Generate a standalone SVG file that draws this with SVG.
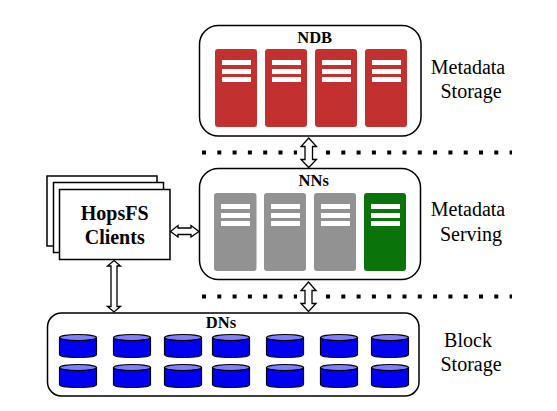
<svg xmlns="http://www.w3.org/2000/svg" xmlns:xlink="http://www.w3.org/1999/xlink" width="557" height="411" viewBox="0 0 557 411">
<style>
.box{fill:#fff;stroke:#000;stroke-width:1.5}
.page{fill:#fff;stroke:#000;stroke-width:1.5}
.stripe{fill:#fff}
.red{fill:#c33030}
.gray{fill:#929292}
.green{fill:#0a730a}
.arrow{fill:#fff;stroke:#000;stroke-width:1.3}
.cylb{fill:#0000f0;stroke:#000;stroke-width:1.2}
.cylt{fill:#8080ff;stroke:#000;stroke-width:1.2}
text{font-family:"Liberation Serif","Times New Roman",serif;fill:#000}
.title{font-weight:bold;font-size:16.5px;text-anchor:middle}
.label{font-size:20px;text-anchor:middle}
.client{font-weight:bold;font-size:20px;text-anchor:middle}
</style>
<defs>
<g id="stripes"><rect class="stripe" x="7" y="11" width="29" height="5"/><rect class="stripe" x="7" y="20" width="29" height="5"/><rect class="stripe" x="7" y="28" width="29" height="5"/></g>
<g id="cyl"><path class="cylb" d="M0 3.5V20.5C0 22.4 8.3 23.5 18.5 23.5S37 22.4 37 20.5V3.5Z"/><ellipse class="cylt" cx="18.5" cy="3.5" rx="18.5" ry="3"/></g>
</defs>
<g id="ndb">
<rect class="box" x="199.5" y="25.5" width="221.5" height="110.5" rx="19"/>
<text class="title" x="314.7" y="43">NDB</text>
<g transform="translate(215,49)"><rect class="red" width="42" height="78" rx="3"/><use xlink:href="#stripes"/></g>
<g transform="translate(265,49)"><rect class="red" width="42" height="78" rx="3"/><use xlink:href="#stripes"/></g>
<g transform="translate(315,49)"><rect class="red" width="42" height="78" rx="3"/><use xlink:href="#stripes"/></g>
<g transform="translate(365,49)"><rect class="red" width="42" height="78" rx="3"/><use xlink:href="#stripes"/></g>
</g>
<g id="metadata-storage-label"><text class="label" x="468" y="74">Metadata</text><text class="label" x="471" y="97.5">Storage</text></g>
<g id="nns">
<rect class="box" x="199.5" y="168.5" width="221" height="111" rx="19"/>
<text class="title" x="313.7" y="185.5">NNs</text>
<g transform="translate(214,193)"><rect class="gray" width="42.5" height="78" rx="3"/><use xlink:href="#stripes"/></g>
<g transform="translate(264,193)"><rect class="gray" width="42" height="78" rx="3"/><use xlink:href="#stripes"/></g>
<g transform="translate(314,193)"><rect class="gray" width="42" height="78" rx="3"/><use xlink:href="#stripes"/></g>
<g transform="translate(364,193)"><rect class="green" width="42" height="78" rx="3"/><use xlink:href="#stripes"/></g>
</g>
<g id="metadata-serving-label"><text class="label" x="468" y="216">Metadata</text><text class="label" x="471" y="240.5">Serving</text></g>
<g id="clients">
<rect class="page" x="47" y="176" width="110" height="70"/>
<rect class="page" x="53.5" y="182.5" width="110" height="70"/>
<rect class="page" x="59.5" y="189.5" width="110.5" height="70"/>
<text class="client" x="114.7" y="220">HopsFS</text>
<text class="client" x="114.7" y="243.5">Clients</text>
</g>
<g id="dns">
<rect class="box" x="47.5" y="313" width="371.5" height="83" rx="14"/>
<text class="title" x="221" y="327.7">DNs</text>
<use xlink:href="#cyl" x="59.5" y="334"/><use xlink:href="#cyl" x="113.5" y="334"/><use xlink:href="#cyl" x="164.5" y="334"/><use xlink:href="#cyl" x="212.5" y="334"/><use xlink:href="#cyl" x="266.5" y="334"/><use xlink:href="#cyl" x="320.5" y="334"/><use xlink:href="#cyl" x="371.5" y="334"/>
<use xlink:href="#cyl" x="59.5" y="364"/><use xlink:href="#cyl" x="113.5" y="364"/><use xlink:href="#cyl" x="164.5" y="364"/><use xlink:href="#cyl" x="212.5" y="364"/><use xlink:href="#cyl" x="266.5" y="364"/><use xlink:href="#cyl" x="320.5" y="364"/><use xlink:href="#cyl" x="371.5" y="364"/>
</g>
<g id="block-storage-label"><text class="label" x="468" y="346.7">Block</text><text class="label" x="471" y="370.7">Storage</text></g>
<g id="separators">
<path d="M202 152.5H297M326 152.5H512M202 296.5H297M326 296.5H512" fill="none" stroke="#000" stroke-width="4" stroke-dasharray="4 11.3"/>
</g>
<g id="connectors">
<path class="arrow" d="M308.7 138L316.5 146.5H312.5V159.5H316.5L308.7 167.5L301 159.5H305V146.5H301Z"/>
<path class="arrow" d="M308.5 282L316 290.5H312V303.5H316L308.5 311.5L301 303.5H305V290.5H301Z"/>
<path class="arrow" d="M114 260.5L120.5 266H117V306.5H120.5L114 312L107.5 306.5H111V266H107.5Z"/>
<path class="arrow" d="M170.5 231.5L178 225.5V228H191V225.5L199 231.5L191 237V234.5H178V237Z"/>
</g>
</svg>
